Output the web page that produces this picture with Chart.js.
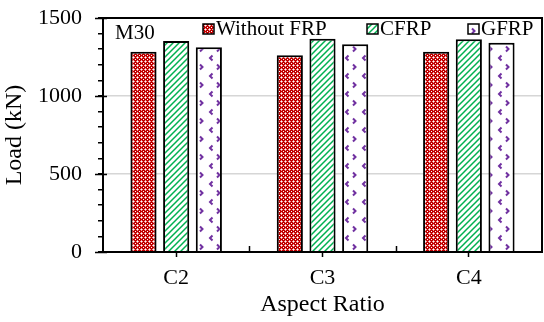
<!DOCTYPE html>
<html>
<head>
  <meta charset="UTF-8">
  <title>Load vs Aspect Ratio (M30)</title>
  <script src="https://cdn.jsdelivr.net/npm/chart.js"></script>
  <style>
    body { margin: 0; background: #fff; }
    .wrap { width: 544px; height: 322px; position: relative; }
  </style>
</head>
<body>
  <div class="wrap"><canvas id="chartCanvas"></canvas></div>

  <script>
    const categories = ['C2', 'C3', 'C4'];
    const seriesNames = ['Without FRP', 'CFRP', 'GFRP'];
    const withoutFRP = [1284, 1261, 1284];
    const cfrp = [1353, 1367, 1363];
    const gfrp = [1312, 1331, 1342];
    const yMajorTicks = [0, 500, 1000, 1500];
    const panelLabel = 'M30';

    const FONT = '"Liberation Serif", "Times New Roman", serif';

    // hatch fills, roughly like the excel patterns
    function makePattern(w, h, draw) {
      const c = document.createElement('canvas');
      c.width = w; c.height = h;
      const g = c.getContext('2d');
      draw(g);
      return g.createPattern(c, 'repeat');
    }

    const redFill = makePattern(4, 4, g => {
      g.fillStyle = '#c00000';
      g.fillRect(0, 0, 4, 4);
      g.fillStyle = '#ffffff';
      g.fillRect(1, 1, 1, 1);
      g.fillRect(3, 3, 1, 1);
      g.fillStyle = '#f2a0a0';
      g.fillRect(0, 1, 1, 1);
      g.fillRect(2, 1, 1, 1);
      g.fillRect(1, 0, 1, 1);
      g.fillRect(1, 2, 1, 1);
    });

    const greenFill = makePattern(6, 6, g => {
      g.fillStyle = '#ffffff';
      g.fillRect(0, 0, 6, 6);
      g.strokeStyle = '#00b050';
      g.lineWidth = 1.5;
      g.beginPath();
      g.moveTo(0, 6); g.lineTo(6, 0);
      g.moveTo(-1, 1); g.lineTo(1, -1);
      g.moveTo(5, 7); g.lineTo(7, 5);
      g.stroke();
    });

    const purpleFill = makePattern(17, 18, g => {
      g.fillStyle = '#ffffff';
      g.fillRect(0, 0, 17, 18);
      g.strokeStyle = '#7030a0';
      g.lineWidth = 2;
      g.beginPath();
      g.moveTo(8.5, 1.5); g.lineTo(6, 4); g.lineTo(8.5, 6.5);       // <
      g.moveTo(13, 10.5); g.lineTo(15.5, 13); g.lineTo(13, 15.5);   // >
      g.stroke();
    });

    const fills = [redFill, greenFill, purpleFill];

    // frame, extra tick marks, panel label and the in-plot legend
    const framePlugin = {
      id: 'frame',
      afterDraw(chart) {
        const ctx = chart.ctx;
        const a = chart.chartArea;
        const y = chart.scales.y;
        const x = chart.scales.x;
        ctx.save();
        ctx.strokeStyle = '#000';
        ctx.lineWidth = 2;
        ctx.strokeRect(a.left, a.top, a.right - a.left, a.bottom - a.top);

        // major y ticks cross the axis
        ctx.lineWidth = 1.5;
        ctx.beginPath();
        yMajorTicks.forEach(v => {
          const py = Math.round(y.getPixelForValue(v)) + 0.5;
          ctx.moveTo(a.left - 8, py);
          ctx.lineTo(a.left + 4, py);
        });
        // inner ticks between categories
        for (let i = 1; i < categories.length; i++) {
          const px = Math.round((x.getPixelForValue(i - 1) + x.getPixelForValue(i)) / 2) + 0.5;
          ctx.moveTo(px, a.bottom);
          ctx.lineTo(px, a.bottom - 6);
        }
        ctx.stroke();

        ctx.fillStyle = '#000';
        ctx.font = '21px ' + FONT;
        ctx.textBaseline = 'alphabetic';
        ctx.fillText(panelLabel, 115, 39);

        const boxX = [203, 367, 468];
        chart.data.datasets.forEach((ds, i) => {
          ctx.fillStyle = ds.backgroundColor;
          ctx.fillRect(boxX[i], 24, 11, 10);
          ctx.lineWidth = 1.5;
          ctx.strokeStyle = '#000';
          ctx.strokeRect(boxX[i], 24, 11, 10);
          ctx.fillStyle = '#000';
          ctx.fillText(ds.label, boxX[i] + 13, 35);
        });
        ctx.restore();
      }
    };

    new Chart(document.getElementById('chartCanvas'), {
      type: 'bar',
      data: {
        labels: categories,
        datasets: [withoutFRP, cfrp, gfrp].map((vals, i) => ({
          label: seriesNames[i],
          data: vals,
          backgroundColor: fills[i],
          borderColor: '#000',
          borderWidth: 2,
          categoryPercentage: 0.67,
          barPercentage: 0.8
        }))
      },
      options: {
        responsive: true,
        maintainAspectRatio: false,
        animation: false,
        devicePixelRatio: 1,
        layout: { padding: { top: 18, right: 2, left: 0, bottom: 0 } },
        plugins: {
          legend: { display: false },
          tooltip: { enabled: false }
        },
        scales: {
          x: {
            afterFit: s => { s.height = 70; s.paddingLeft = 0; s.paddingRight = 0; },
            grid: {
              offset: false,
              drawOnChartArea: false,
              tickLength: 5,
              tickColor: '#000',
              tickWidth: 1.5
            },
            border: { color: '#000', width: 2 },
            ticks: {
              color: '#000',
              font: { family: FONT, size: 22 },
              padding: 8
            },
            title: {
              display: true,
              text: 'Aspect Ratio',
              color: '#000',
              font: { family: FONT, size: 24 },
              padding: { top: 0, bottom: 3 }
            }
          },
          y: {
            min: 0,
            max: 1500,
            afterFit: s => { s.width = 103; s.paddingTop = 0; s.paddingBottom = 0; },
            grid: {
              color: c => (c.tick && c.tick.value % 500 === 0 && c.tick.value > 0 && c.tick.value < 1500) ? '#d6d6d6' : 'rgba(0,0,0,0)',
              lineWidth: 1.5,
              tickLength: 5,
              tickColor: '#000',
              tickWidth: 1.5
            },
            border: { color: '#000', width: 2 },
            ticks: {
              stepSize: 100,
              autoSkip: false,
              color: '#000',
              font: { family: FONT, size: 22 },
              padding: 16,
              callback: v => (v % 500 === 0 ? v : '')
            },
            title: {
              display: true,
              text: 'Load (kN)',
              color: '#000',
              font: { family: FONT, size: 24 },
              padding: { top: 0, bottom: 0 }
            }
          }
        }
      },
      plugins: [framePlugin]
    });
  </script>
</body>
</html>
